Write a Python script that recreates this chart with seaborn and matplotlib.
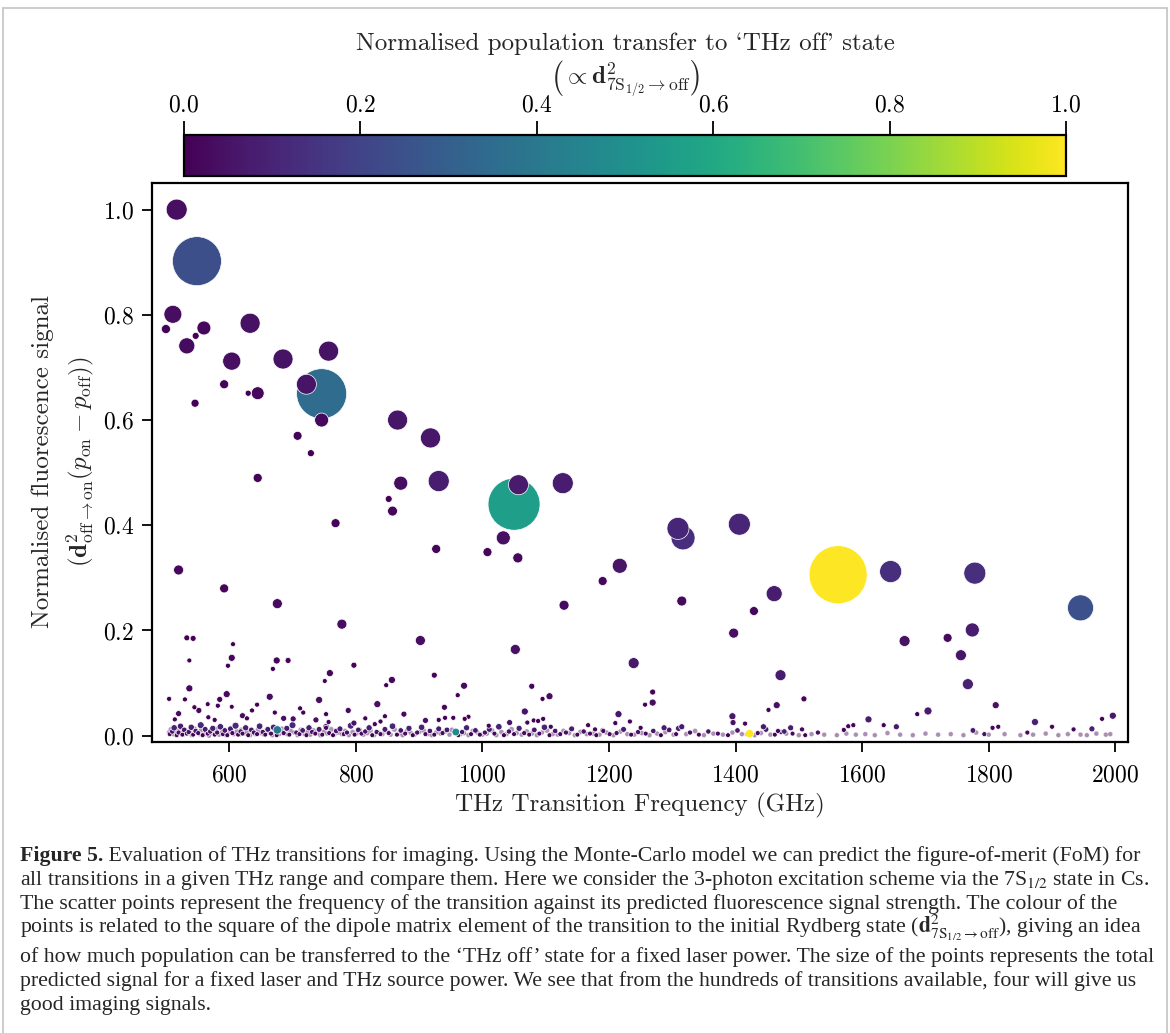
import numpy as np
import pandas as pd
import matplotlib
matplotlib.use("Agg")
import matplotlib.pyplot as plt
import seaborn as sns
from matplotlib.colors import Normalize
from matplotlib.cm import ScalarMappable
from matplotlib.lines import Line2D

# ---------------- data ----------------
# strong / mid-size transitions: frequency (GHz), normalised signal, dipole (colour)
main_freq = [517, 549, 511, 500, 533, 547, 560, 633, 604, 685, 757, 722, 592, 630, 645,
             746, 746, 546, 708, 729, 866, 918, 645, 871, 931, 852, 858, 768, 1050, 1057,
             1127, 1033, 1008, 927, 1056, 1309, 1317, 1406, 1217, 1190, 1562, 1645, 1778,
             1945, 1129, 1397, 1315, 1429, 1461, 1667, 1735, 1774, 1756, 1767, 1471, 1239,
             520, 592, 676, 778, 902, 1052]
main_signal = [1.000, 0.902, 0.801, 0.773, 0.741, 0.760, 0.775, 0.784, 0.712, 0.716, 0.731,
               0.668, 0.668, 0.651, 0.651, 0.650, 0.600, 0.632, 0.570, 0.537, 0.600, 0.566,
               0.490, 0.480, 0.484, 0.450, 0.427, 0.404, 0.440, 0.477, 0.480, 0.376, 0.349,
               0.355, 0.338, 0.394, 0.376, 0.402, 0.323, 0.294, 0.306, 0.312, 0.309, 0.243,
               0.248, 0.195, 0.256, 0.237, 0.270, 0.180, 0.186, 0.201, 0.153, 0.098, 0.115,
               0.138, 0.315, 0.280, 0.251, 0.212, 0.181, 0.164]
main_dipole = [0.038, 0.240, 0.034, 0.007, 0.029, 0.003, 0.020, 0.044, 0.039, 0.048, 0.047,
               0.051, 0.008, 0.002, 0.020, 0.348, 0.026, 0.006, 0.009, 0.0045, 0.057, 0.061,
               0.011, 0.033, 0.079, 0.005, 0.016, 0.013, 0.555, 0.072, 0.079, 0.042, 0.015,
               0.015, 0.021, 0.107, 0.134, 0.104, 0.057, 0.018, 1.000, 0.135, 0.136, 0.245,
               0.028, 0.036, 0.027, 0.022, 0.079, 0.049, 0.028, 0.079, 0.058, 0.091, 0.077,
               0.064, 0.022, 0.019, 0.028, 0.033, 0.039, 0.043]

# weak transitions (signal below ~0.2)
low_freq = [1811, 1508, 1465, 1452, 1269, 1269, 1257, 1215, 1704, 1687, 1996, 1979, 1610,
            1395, 1078, 1106, 1095, 1873, 1963, 533, 543, 537, 537, 606, 604, 598, 675, 693,
            669, 759, 751, 797, 857, 848, 924, 971, 961, 940, 505, 596, 585, 664, 742, 834,
            978, 1067, 1043, 530, 545, 552, 566, 582, 604, 621, 628, 636, 644, 701, 712, 717,
            788, 753, 737, 815, 876, 910, 941, 954, 672, 686, 520, 514, 567, 577, 757, 753,
            797, 830, 839, 846, 931, 972, 1010, 1071, 1081, 1088, 1096, 1108, 1167, 1233,
            1178, 1191, 1210, 1654, 1634, 1586, 1578, 1571, 1775, 1793, 1934, 1900, 1861,
            1815, 1806, 1396, 1415, 1444, 1487, 1505, 1467, 1477, 1287, 1315, 1250, 676, 958,
            1422]
low_signal = [0.058, 0.070, 0.058, 0.049, 0.083, 0.063, 0.059, 0.041, 0.047, 0.041, 0.038,
              0.032, 0.031, 0.037, 0.094, 0.075, 0.070, 0.026, 0.013, 0.186, 0.185, 0.143,
              0.090, 0.174, 0.148, 0.133, 0.143, 0.143, 0.127, 0.119, 0.104, 0.134, 0.106,
              0.096, 0.115, 0.095, 0.077, 0.054, 0.070, 0.079, 0.069, 0.074, 0.068, 0.060,
              0.036, 0.046, 0.025, 0.069, 0.054, 0.048, 0.060, 0.057, 0.055, 0.038, 0.033,
              0.048, 0.059, 0.032, 0.052, 0.044, 0.048, 0.041, 0.030, 0.033, 0.041, 0.029,
              0.034, 0.034, 0.044, 0.033, 0.042, 0.031, 0.035, 0.030, 0.026, 0.015, 0.024,
              0.022, 0.027, 0.037, 0.030, 0.032, 0.019, 0.025, 0.029, 0.028, 0.032, 0.017,
              0.020, 0.027, 0.012, 0.009, 0.024, 0.017, 0.020, 0.020, 0.018, 0.011, 0.010,
              0.003, 0.012, 0.017, 0.006, 0.017, 0.015, 0.025, 0.023, 0.017, 0.015, 0.012,
              0.009, 0.008, 0.015, 0.017, 0.015, 0.011, 0.007, 0.004]
low_dipole = [0.041, 0.017, 0.041, 0.004, 0.014, 0.038, 0.003, 0.059, 0.079, 0.005, 0.063,
              0.006, 0.077, 0.065, 0.013, 0.032, 0.003, 0.092, 0.090, 0.006, 0.006, 0.001,
              0.027, 0.001, 0.016, 0.002, 0.017, 0.008, 0.002, 0.020, 0.001, 0.009, 0.023,
              0.002, 0.010, 0.025, 0.003, 0.022, 0.003, 0.030, 0.017, 0.032, 0.035, 0.040,
              0.006, 0.052, 0.048, 0.003, 0.004, 0.025, 0.001, 0.004, 0.001, 0.032, 0.006,
              0.004, 0.003, 0.037, 0.004, 0.005, 0.025, 0.005, 0.040, 0.006, 0.029, 0.041,
              0.006, 0.006, 0.005, 0.036, 0.029, 0.006, 0.006, 0.007, 0.008, 0.013, 0.050,
              0.009, 0.007, 0.005, 0.007, 0.006, 0.011, 0.008, 0.007, 0.007, 0.006, 0.012,
              0.010, 0.007, 0.017, 0.022, 0.008, 0.070, 0.010, 0.010, 0.011, 0.018, 0.080,
              0.050, 0.017, 0.012, 0.030, 0.012, 0.013, 0.048, 0.009, 0.070, 0.080, 0.017,
              0.022, 0.080, 0.080, 0.070, 0.013, 0.400, 0.470, 1.000]

# near-zero transitions just above the floor (drawn opaque)
near_freq = [506, 510, 513, 517, 520, 523, 526, 529, 533, 536,
             540, 543, 547, 551, 555, 558, 562, 566, 570, 574,
             577, 581, 586, 590, 593, 597, 602, 605, 610, 614,
             618, 621, 626, 630, 635, 639, 644, 648, 653, 657,
             661, 666, 670, 675, 681, 686, 691, 695, 700, 706,
             711, 716, 722, 726, 731, 736, 742, 747, 753, 758,
             764, 769, 775, 781, 786, 792, 798, 804, 809, 815,
             821, 826, 833, 839, 846, 852, 858, 865, 871, 878,
             884, 890, 897, 904, 910, 917, 924, 931, 937, 944,
             962, 968, 975, 982, 989, 996, 1004, 1011, 1019, 1026,
             1034, 1042, 1050, 1058, 1066, 1074, 1082, 1090, 1098, 1106,
             1115, 1123, 1132, 1141, 1150, 1160, 1170, 1180, 1190, 1201,
             1212, 1223, 1235, 1246, 1258, 1270, 1282, 1295, 1306, 1310,
             1328, 1342, 1357, 1372, 1388, 1403, 1418, 1435, 1448, 1462,
             1472, 1490, 1510, 1530]
near_signal = [0.003, 0.008, 0.015, 0.001, 0.006, 0.018, 0.002, 0.011, 0.004, 0.007,
               0.016, 0.002, 0.009, 0.005, 0.020, 0.001, 0.012, 0.004, 0.008, 0.014,
               0.002, 0.006, 0.017, 0.003, 0.010, 0.001, 0.013, 0.005, 0.019, 0.002,
               0.008, 0.004, 0.015, 0.001, 0.011, 0.006, 0.003, 0.018, 0.007, 0.002,
               0.012, 0.004, 0.016, 0.001, 0.009, 0.005, 0.014, 0.002, 0.020, 0.006,
               0.003, 0.010, 0.001, 0.015, 0.007, 0.004, 0.012, 0.002, 0.017, 0.005,
               0.001, 0.009, 0.013, 0.003, 0.006, 0.019, 0.002, 0.011, 0.004, 0.008,
               0.015, 0.001, 0.007, 0.003, 0.012, 0.005, 0.018, 0.002, 0.010, 0.004,
               0.014, 0.001, 0.006, 0.016, 0.003, 0.009, 0.002, 0.013, 0.005, 0.011,
               0.001, 0.007, 0.015, 0.003, 0.010, 0.002, 0.006, 0.012, 0.004, 0.017,
               0.001, 0.008, 0.003, 0.014, 0.005, 0.002, 0.011, 0.004, 0.016, 0.001,
               0.009, 0.003, 0.006, 0.013, 0.002, 0.008, 0.004, 0.001, 0.010, 0.003,
               0.005, 0.012, 0.002, 0.007, 0.004, 0.009, 0.001, 0.011, 0.003, 0.014,
               0.006, 0.002, 0.008, 0.004, 0.001, 0.010, 0.003, 0.005, 0.012, 0.002,
               0.007, 0.004, 0.001, 0.006]
near_dipole = [0.02, 0.06, 0.10, 0.01, 0.04, 0.08, 0.01, 0.07, 0.03, 0.05,
               0.09, 0.01, 0.06, 0.03, 0.11, 0.00, 0.08, 0.02, 0.05, 0.09,
               0.01, 0.04, 0.10, 0.02, 0.07, 0.00, 0.08, 0.03, 0.12, 0.01,
               0.05, 0.02, 0.09, 0.00, 0.07, 0.04, 0.02, 0.10, 0.05, 0.01,
               0.08, 0.03, 0.09, 0.00, 0.06, 0.03, 0.08, 0.01, 0.11, 0.04,
               0.02, 0.07, 0.00, 0.09, 0.05, 0.02, 0.08, 0.01, 0.10, 0.03,
               0.00, 0.06, 0.08, 0.02, 0.04, 0.11, 0.01, 0.07, 0.03, 0.05,
               0.09, 0.00, 0.05, 0.02, 0.08, 0.03, 0.10, 0.01, 0.06, 0.02,
               0.09, 0.00, 0.04, 0.10, 0.02, 0.06, 0.01, 0.08, 0.03, 0.07,
               0.00, 0.05, 0.09, 0.02, 0.07, 0.01, 0.04, 0.08, 0.03, 0.10,
               0.00, 0.05, 0.02, 0.09, 0.03, 0.01, 0.07, 0.02, 0.10, 0.00,
               0.06, 0.02, 0.04, 0.08, 0.01, 0.05, 0.03, 0.00, 0.06, 0.02,
               0.03, 0.08, 0.01, 0.05, 0.02, 0.06, 0.00, 0.07, 0.02, 0.09,
               0.04, 0.01, 0.05, 0.03, 0.00, 0.06, 0.02, 0.03, 0.08, 0.01,
               0.05, 0.02, 0.00, 0.04]

# the faint floor of near-zero transitions
floor_freq = [505, 508, 512, 515, 518, 521, 524, 527, 531, 534,
              538, 541, 545, 549, 553, 556, 560, 563, 568, 572,
              575, 579, 584, 588, 591, 595, 600, 603, 607, 612,
              616, 619, 623, 628, 633, 637, 641, 646, 650, 655,
              659, 663, 668, 672, 679, 683, 688, 693, 697, 703,
              708, 713, 719, 724, 728, 733, 739, 744, 750, 755,
              761, 766, 772, 778, 783, 789, 795, 801, 806, 812,
              818, 823, 829, 836, 842, 849, 855, 861, 868, 874,
              881, 887, 893, 900, 907, 913, 920, 927, 934, 941,
              948, 952, 965, 971, 978, 985, 992, 1000, 1007, 1015,
              1022, 1030, 1038, 1046, 1054, 1062, 1070, 1078, 1086, 1094,
              1102, 1111, 1119, 1128, 1137, 1146, 1155, 1165, 1175, 1185,
              1196, 1207, 1218, 1229, 1240, 1252, 1264, 1276, 1289, 1302,
              1322, 1336, 1350, 1365, 1380, 1395, 1410, 1430, 1440, 1455,
              1480, 1500, 1520, 1540, 1560, 1575, 1590, 1605, 1620, 1640,
              1660, 1680, 1700, 1720, 1740, 1760, 1780, 1800, 1825, 1850,
              1870, 1890, 1910, 1925, 1945, 1955, 1970, 1985, 1992]
floor_signal = [0.006, 0.012, 0.003, 0.009, 0.001, 0.014, 0.005, 0.002, 0.010, 0.004,
                0.008, 0.001, 0.013, 0.006, 0.003, 0.011, 0.002, 0.007, 0.000, 0.009,
                0.004, 0.012, 0.002, 0.006, 0.010, 0.001, 0.005, 0.013, 0.003, 0.008,
                0.002, 0.011, 0.004, 0.007, 0.001, 0.009, 0.003, 0.012, 0.005, 0.002,
                0.010, 0.006, 0.001, 0.008, 0.003, 0.013, 0.004, 0.002, 0.009, 0.006,
                0.001, 0.011, 0.003, 0.007, 0.002, 0.010, 0.005, 0.001, 0.008, 0.004,
                0.012, 0.002, 0.006, 0.003, 0.009, 0.001, 0.007, 0.004, 0.011, 0.002,
                0.005, 0.010, 0.001, 0.006, 0.003, 0.008, 0.002, 0.012, 0.004, 0.001,
                0.009, 0.005, 0.002, 0.007, 0.010, 0.003, 0.001, 0.006, 0.004, 0.008,
                0.002, 0.011, 0.003, 0.005, 0.001, 0.009, 0.006, 0.002, 0.004, 0.010,
                0.001, 0.007, 0.003, 0.012, 0.005, 0.002, 0.008, 0.004, 0.001, 0.006,
                0.010, 0.003, 0.002, 0.009, 0.005, 0.001, 0.007, 0.003, 0.004, 0.002,
                0.006, 0.001, 0.008, 0.003, 0.002, 0.005, 0.001, 0.004, 0.007, 0.002,
                0.003, 0.009, 0.001, 0.004, 0.002, 0.006, 0.003, 0.001, 0.005, 0.002,
                0.004, 0.001, 0.003, 0.002, 0.001, 0.004, 0.002, 0.003, 0.001, 0.005,
                0.002, 0.001, 0.004, 0.002, 0.003, 0.001, 0.006, 0.002, 0.003, 0.001,
                0.002, 0.004, 0.001, 0.003, 0.002, 0.001, 0.004, 0.002, 0.003]
floor_dipole = [0.02, 0.04, 0.01, 0.03, 0.00, 0.05, 0.02, 0.01, 0.03, 0.02,
                0.03, 0.00, 0.04, 0.02, 0.01, 0.04, 0.01, 0.03, 0.00, 0.03,
                0.02, 0.05, 0.01, 0.02, 0.04, 0.00, 0.02, 0.04, 0.01, 0.03,
                0.01, 0.04, 0.02, 0.03, 0.00, 0.03, 0.01, 0.05, 0.02, 0.01,
                0.04, 0.02, 0.00, 0.03, 0.01, 0.04, 0.02, 0.01, 0.03, 0.02,
                0.00, 0.04, 0.01, 0.03, 0.01, 0.04, 0.02, 0.00, 0.03, 0.02,
                0.05, 0.01, 0.02, 0.01, 0.03, 0.00, 0.03, 0.02, 0.04, 0.01,
                0.02, 0.04, 0.00, 0.02, 0.01, 0.03, 0.01, 0.05, 0.02, 0.00,
                0.03, 0.02, 0.01, 0.03, 0.04, 0.01, 0.00, 0.02, 0.02, 0.03,
                0.01, 0.04, 0.01, 0.02, 0.00, 0.03, 0.02, 0.01, 0.02, 0.04,
                0.00, 0.03, 0.01, 0.05, 0.02, 0.01, 0.03, 0.02, 0.00, 0.02,
                0.04, 0.01, 0.01, 0.03, 0.02, 0.00, 0.03, 0.01, 0.02, 0.01,
                0.02, 0.00, 0.03, 0.01, 0.01, 0.02, 0.00, 0.02, 0.03, 0.01,
                0.01, 0.03, 0.00, 0.02, 0.01, 0.02, 0.01, 0.00, 0.02, 0.01,
                0.02, 0.00, 0.01, 0.01, 0.00, 0.02, 0.01, 0.01, 0.00, 0.02,
                0.01, 0.00, 0.02, 0.01, 0.01, 0.00, 0.02, 0.01, 0.01, 0.00,
                0.01, 0.02, 0.00, 0.01, 0.01, 0.00, 0.02, 0.01, 0.01]

xticks = [600, 800, 1000, 1200, 1400, 1600, 1800, 2000]
yticks = [0.0, 0.2, 0.4, 0.6, 0.8, 1.0]
cbar_ticks = [0.0, 0.2, 0.4, 0.6, 0.8, 1.0]

caption_lines = [
    "Evaluation of THz transitions for imaging. Using the Monte-Carlo model we can predict the figure-of-merit (FoM) for",
    "all transitions in a given THz range and compare them. Here we consider the 3-photon excitation scheme via the 7S$_{1/2}$ state in Cs.",
    "The scatter points represent the frequency of the transition against its predicted fluorescence signal strength. The colour of the",
    r"points is related to the square of the dipole matrix element of the transition to the initial Rydberg state ($\mathbf{d}^2_{7\mathrm{S}_{1/2}\to\mathrm{off}}$), giving an idea",
    "of how much population can be transferred to the \u2018THz off\u2019 state for a fixed laser power. The size of the points represents the total",
    "predicted signal for a fixed laser and THz source power. We see that from the hundreds of transitions available, four will give us",
    "good imaging signals.",
]

# ---------------- style ----------------
sns.set_style("ticks")
plt.rcParams.update({
    "font.family": "cmr10",
    "mathtext.fontset": "cm",
    "axes.formatter.use_mathtext": True,
    "axes.unicode_minus": False,
    "axes.edgecolor": "black",
    "xtick.color": "black",
    "ytick.color": "black",
})

W, H = 1170, 1033
fig = plt.figure(figsize=(W / 100, H / 100), dpi=100)


def fx(px):
    return px / W


def fy(py):
    return 1 - py / H


ax = fig.add_axes([fx(152), fy(741.7), fx(1128) - fx(152), fy(183.3) - fy(741.7)])
cax = fig.add_axes([fx(184), fy(176), fx(1066) - fx(184), fy(135) - fy(176)])


def frame(freq, sig, dip):
    d = pd.DataFrame({"freq": freq, "signal": sig, "dipole": dip})
    d["strength"] = d["signal"] * d["dipole"]
    return d


floor_df = frame(floor_freq, floor_signal, floor_dipole)
near_df = frame(near_freq, near_signal, near_dipole)
pts_df = pd.concat([frame(main_freq, main_signal, main_dipole),
                    frame(low_freq, low_signal, low_dipole)], ignore_index=True)
pts_df = pts_df.sort_values("strength", ascending=False, kind="stable")
pts_df = pd.concat([near_df, pts_df], ignore_index=True)

common = dict(x="freq", y="signal", hue="dipole", size="strength",
              palette="viridis", hue_norm=(0, 1), sizes=(12, 1746),
              size_norm=(0, 0.305), legend=False, ax=ax, edgecolor="white")
sns.scatterplot(data=floor_df, alpha=0.45, linewidth=0.5, **common)
sns.scatterplot(data=pts_df, alpha=1.0, linewidth=0.5, **common)

ax.set_xlim(478, 2020)
ax.set_ylim(-0.0114, 1.05)
ax.set_xticks(xticks)
ax.set_yticks(yticks)
ax.set_xlabel("")
ax.set_ylabel("")
ax.tick_params(direction="out", length=7, width=1.3, labelsize=17, pad=6)
ax.tick_params(axis="x", pad=9)
for sp in ax.spines.values():
    sp.set_visible(True)
    sp.set_linewidth(1.6)

cb = fig.colorbar(ScalarMappable(norm=Normalize(0, 1), cmap="viridis"), cax=cax,
                  orientation="horizontal", ticks=cbar_ticks)
cax.xaxis.set_ticks_position("top")
cax.tick_params(direction="out", length=10, width=1.3, labelsize=17, pad=3)
cb.outline.set_linewidth(1.6)

# labels (cmr10 maps ` and ' to the curly quote glyphs)
fig.text(fx(625), fy(44), "Normalised population transfer to `THz off' state",
         ha="center", va="center", fontsize=18)
fig.text(fx(625), fy(79), r"$\left(\propto \mathbf{d}^2_{7\mathrm{S}_{1/2}\to\mathrm{off}}\right)$",
         ha="center", va="center", fontsize=18)
fig.text(fx(43), fy(462), "Normalised fluorescence signal", rotation=90,
         ha="center", va="center", fontsize=18)
fig.text(fx(80), fy(462),
         r"$(\mathbf{d}^2_{\mathrm{off}\to\mathrm{on}}(p_{\mathrm{on}}-p_{\mathrm{off}}))$",
         rotation=90, ha="center", va="center", fontsize=18)
fig.text(fx(640), fy(805), "THz Transition Frequency (GHz)", ha="center", va="center",
         fontsize=18)

# border around the figure panel
bc = "#c4c4c4"
fig.add_artist(Line2D([fx(3), fx(3)], [0, fy(8)], transform=fig.transFigure, color=bc, lw=1.2))
fig.add_artist(Line2D([fx(3), fx(1167)], [fy(8), fy(8)], transform=fig.transFigure, color=bc, lw=1.2))
fig.add_artist(Line2D([fx(1167), fx(1167)], [0, fy(8)], transform=fig.transFigure, color=bc, lw=1.2))

# caption
cap_font = ["Liberation Serif", "DejaVu Serif"]
renderer = fig.canvas.get_renderer()
probe = fig.text(0, 0, caption_lines[1], fontsize=10, family=cap_font, math_fontfamily="stix")
w10 = probe.get_window_extent(renderer).width
probe.remove()
cap_size = 10 * 1132 / w10

baselines = [861, 885, 909, 933, 962, 986, 1010]
bold = fig.text(fx(20), fy(baselines[0]), "Figure 5.", fontsize=cap_size, family=cap_font,
                weight="bold", va="baseline")
bw = bold.get_window_extent(renderer).width
fig.text(fx(20 + bw), fy(baselines[0]), " " + caption_lines[0], fontsize=cap_size,
         family=cap_font, va="baseline", math_fontfamily="stix")
for line, b in zip(caption_lines[1:], baselines[1:]):
    fig.text(fx(20), fy(b), line, fontsize=cap_size, family=cap_font, va="baseline",
             math_fontfamily="stix")

fig.savefig("out.png", dpi=100)
